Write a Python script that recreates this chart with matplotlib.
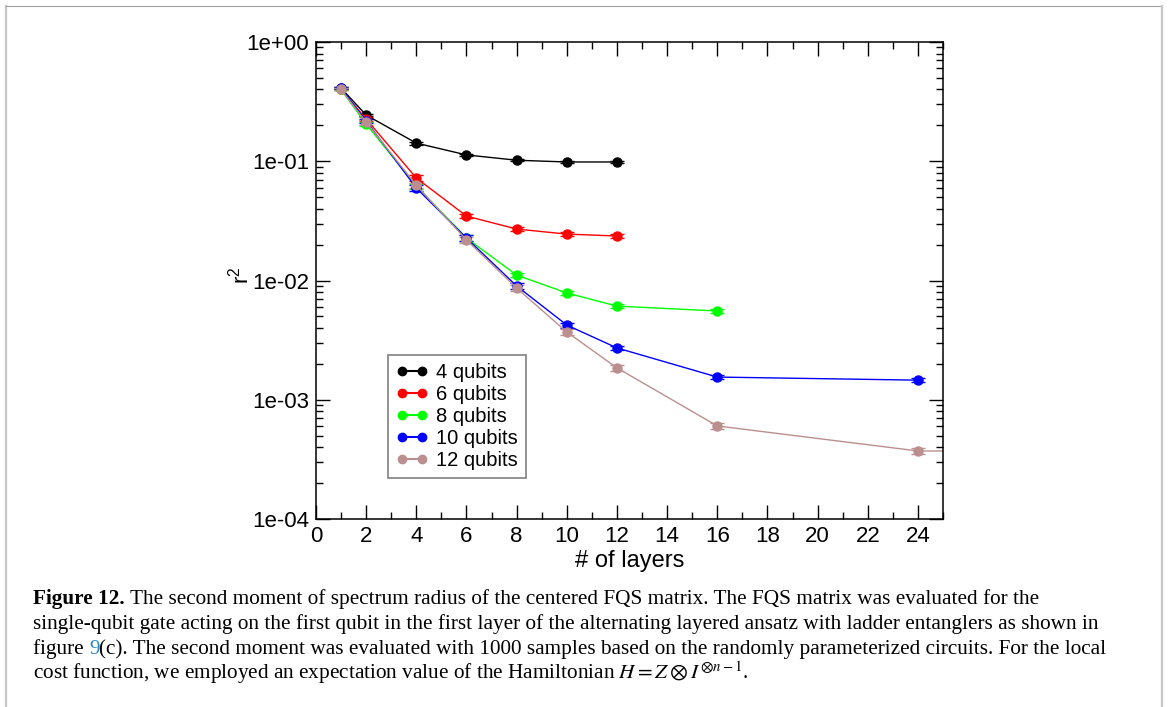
import matplotlib.pyplot as plt
import matplotlib.lines as mlines
from matplotlib.ticker import MultipleLocator, LogLocator, NullFormatter, FixedLocator

plt.rcParams['font.family'] = ['Liberation Sans', 'DejaVu Sans']
plt.rcParams['mathtext.fontset'] = 'custom'
plt.rcParams['mathtext.rm'] = 'Liberation Sans'

# layers and r^2 values per qubit count
layers_4 = [1, 2, 4, 6, 8, 10, 12]
r2_4 = [0.411, 0.244, 0.142, 0.113, 0.102, 0.0986, 0.0986]
err_4 = [0.006, 0.006, 0.004, 0.002, 0.002, 0.0015, 0.0015]

layers_6 = [1, 2, 4, 6, 8, 10, 12]
r2_6 = [0.400, 0.226, 0.0724, 0.0347, 0.0270, 0.0245, 0.0236]
err_6 = [0.008, 0.010, 0.004, 0.0015, 0.0009, 0.0008, 0.0008]

layers_8 = [1, 2, 4, 6, 8, 10, 12, 16]
r2_8 = [0.400, 0.205, 0.0620, 0.0227, 0.0111, 0.00786, 0.0061, 0.00555]
err_8 = [0.008, 0.008, 0.003, 0.0012, 0.0005, 0.0003, 0.0002, 0.0002]

layers_10 = [1, 2, 4, 6, 8, 10, 12, 16, 24]
r2_10 = [0.410, 0.218, 0.0597, 0.0227, 0.0090, 0.00423, 0.00272, 0.00155, 0.00146]
err_10 = [0.010, 0.010, 0.003, 0.0013, 0.0005, 0.0002, 0.00012, 0.00006, 0.00006]

layers_12 = [1, 2, 4, 6, 8, 10, 12, 16, 24, 32]
r2_12 = [0.400, 0.213, 0.0630, 0.0219, 0.00865, 0.0037, 0.00185, 0.000603, 0.000372, 0.00037]
err_12 = [0.008, 0.010, 0.003, 0.0012, 0.0005, 0.0002, 0.0001, 0.00003, 0.00002, 0.00002]

series = [
    ('4 qubits', layers_4, r2_4, err_4, 'black'),
    ('6 qubits', layers_6, r2_6, err_6, '#ff0000'),
    ('8 qubits', layers_8, r2_8, err_8, '#00ff00'),
    ('10 qubits', layers_10, r2_10, err_10, '#0000ff'),
    ('12 qubits', layers_12, r2_12, err_12, '#bc8f8f'),
]

fig = plt.figure(figsize=(11.68, 7.07), dpi=100)
ax = fig.add_axes([0.2705, 0.2659, 0.5369, 0.6747])

handles = []
for label, xs, ys, es, col in series:
    eb = ax.errorbar(xs, ys, yerr=es, color=col, marker='o', markersize=6.5,
                     linewidth=1.0, elinewidth=1.0, capsize=5, capthick=1.0)
    h = mlines.Line2D([], [], color=col, marker='o', markersize=6, linewidth=1.5, label=label)
    handles.append(h)

ax.set_yscale('log')
ax.set_xlim(0, 25)
ax.set_ylim(1e-4, 1)
ax.xaxis.set_major_locator(MultipleLocator(2))
ax.xaxis.set_minor_locator(MultipleLocator(1))
ax.yaxis.set_major_locator(FixedLocator([1e-4, 1e-3, 1e-2, 1e-1, 1]))
ax.yaxis.set_minor_locator(LogLocator(base=10, subs=range(2, 10)))
ax.yaxis.set_minor_formatter(NullFormatter())
ax.set_yticklabels(['1e-04', '1e-03', '1e-02', '1e-01', '1e+00'])

ax.tick_params(which='both', direction='in', top=True, right=True, width=1.0)
ax.tick_params(which='major', length=10, labelsize=16, pad=5)
ax.tick_params(which='minor', length=5)
for s in ax.spines.values():
    s.set_linewidth(1.1)

ax.set_xlabel('# of layers', fontsize=17, labelpad=2)
ax.set_ylabel('r$^{2}$', fontsize=16)
ax.yaxis.set_label_coords(-0.1, 0.51)

leg = ax.legend(handles=handles, loc='lower left', bbox_to_anchor=(0.115, 0.086),
                fontsize=14.5, numpoints=2, handlelength=1.6, handletextpad=0.4,
                labelspacing=0.15, borderpad=0.4, fancybox=False, framealpha=1,
                edgecolor='#808080', borderaxespad=0)
leg.get_frame().set_linewidth(1.2)

# page border lines
fig.add_artist(mlines.Line2D([6 / 1168, 6 / 1168], [0, 1 - 6 / 707], color='#c8c8c8', linewidth=1.6))
fig.add_artist(mlines.Line2D([6 / 1168, 1162 / 1168], [1 - 6 / 707, 1 - 6 / 707], color='#a0a0a0', linewidth=0.8))
fig.add_artist(mlines.Line2D([1162 / 1168, 1162 / 1168], [0, 1 - 6 / 707], color='#c8c8c8', linewidth=1.6))

# caption
cap_font = dict(family='Liberation Serif', fontsize=15.3)
plt.rcParams['mathtext.fontset'] = 'stix'
renderer = fig.canvas.get_renderer()


def put_pieces(pieces, y_px, x_px=33):
    x = x_px / 1168
    y = 1 - y_px / 707
    for txt, kw in pieces:
        t = fig.text(x, y, txt, va='baseline', ha='left', **cap_font, **kw)
        w = t.get_window_extent(renderer).width
        x += w / 1168


put_pieces([('Figure 12.', dict(weight='bold')),
            (' The second moment of spectrum radius of the centered FQS matrix. The FQS matrix was evaluated for the', {})], 604)
put_pieces([('single-qubit gate acting on the first qubit in the first layer of the alternating layered ansatz with ladder entanglers as shown in', {})], 629)
put_pieces([('figure ', {}), ('9', dict(color='#2a8ac4')),
            ('(c). The second moment was evaluated with 1000 samples based on the randomly parameterized circuits. For the local', {})], 654)
put_pieces([('cost function, we employed an expectation value of the Hamiltonian $H = Z \\otimes I^{\\otimes n-1}$.', {})], 679)

fig.savefig('out.png', dpi=100)
